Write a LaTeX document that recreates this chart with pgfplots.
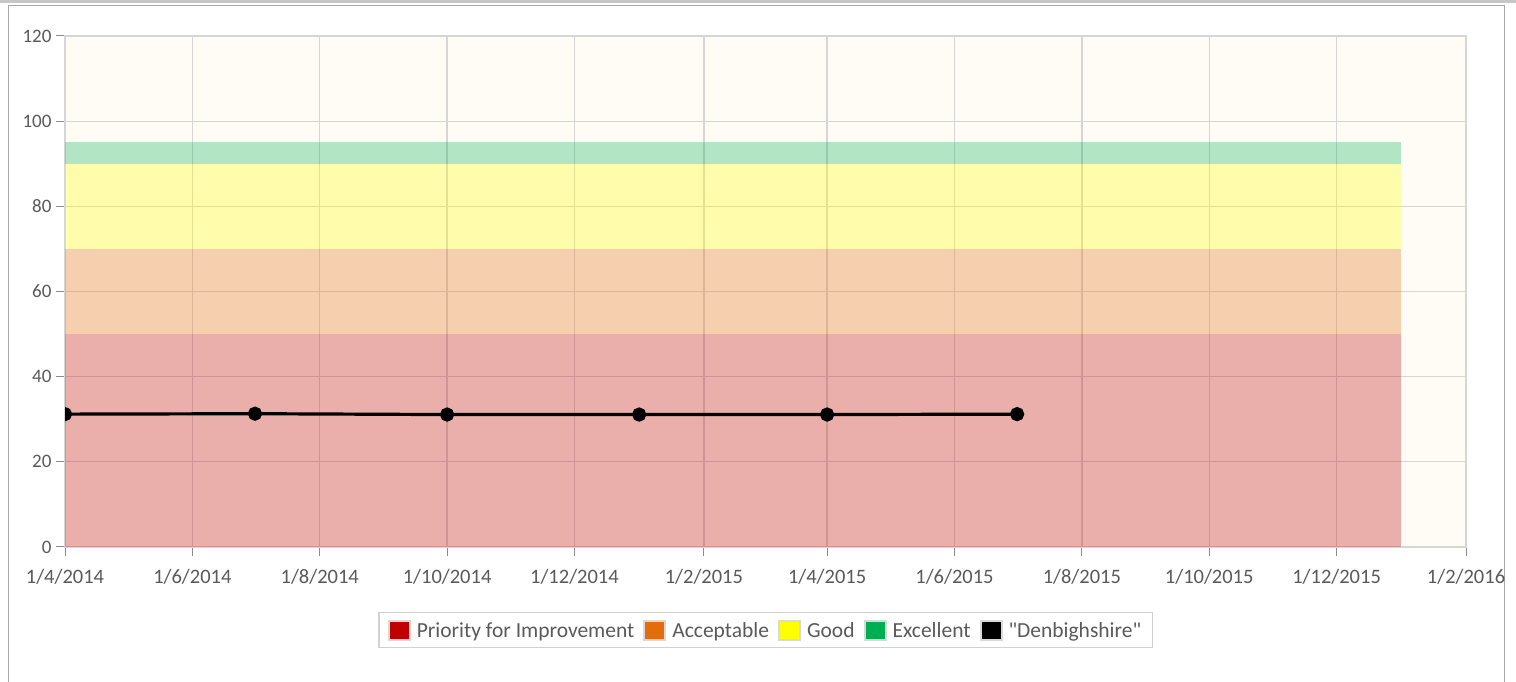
\documentclass[border=0pt]{standalone}
\usepackage{pgfplots}
\pgfplotsset{compat=1.18}
\usepackage{fontspec}
\setmainfont{Carlito}[Ligatures=TeXOff]
\definecolor{cRed}{HTML}{C00000}
\definecolor{cOrange}{HTML}{E46C0A}
\definecolor{cYellow}{HTML}{FFFF00}
\definecolor{cGreen}{HTML}{00B050}
\definecolor{cBg}{HTML}{FFFCF5}
\definecolor{cGrid}{HTML}{D6D6D6}
\definecolor{cTxt}{HTML}{5A5A5A}
\definecolor{cFrame}{HTML}{A8A8A8}
\begin{document}
\begin{tikzpicture}[x=1bp,y=1bp]
\useasboundingbox (0,0) rectangle (1516,682);
\fill[white] (0,0) rectangle (1516,682);
\fill[black!22] (0,679) rectangle (1516,682);
\draw[cFrame,line width=1bp] (8,-5) -- (8,676) -- (1504,676) -- (1504,-5);
\begin{axis}[
  at={(65bp,135bp)}, anchor=south west,
  scale only axis, width=1401bp, height=511bp,
  xmin=0, xmax=671, ymin=0, ymax=120,
  xtick={0,61,122,183,244,306,365,426,487,548,609,671},
  xticklabels={1/4/2014,1/6/2014,1/8/2014,1/10/2014,1/12/2014,1/2/2015,1/4/2015,1/6/2015,1/8/2015,1/10/2015,1/12/2015,1/2/2016},
  ytick={0,20,40,60,80,100,120},
  /pgf/number format/assume math mode=true,
  grid=major,
  major grid style={cGrid,line width=1.3bp},
  axis line style={cGrid,line width=1.3bp},
  axis background/.style={fill=cBg},
  tick align=outside,
  major tick length=9bp,
  tick style={black!45,line width=1bp},
  xtick pos=bottom, ytick pos=left,
  yticklabel style={font=\fontsize{19bp}{22bp}\selectfont, text=cTxt, xshift=-1bp},
  xticklabel style={font=\fontsize{20.5bp}{22bp}\selectfont, text=cTxt, yshift=-10bp},
  clip marker paths=true,
  legend columns=5,
  legend style={at={(0.5,-0.127)}, anchor=north, draw=black!18, line width=1.3bp,
    font=\fontsize{21.5bp}{24bp}\selectfont, text=cTxt, inner xsep=9bp, inner ysep=7bp,
    /tikz/every even column/.append style={column sep=7bp},
    /tikz/every odd column/.append style={column sep=4bp}},
  legend cell align=left,
]
\addplot[draw=none, fill=cRed, fill opacity=0.3, forget plot] coordinates {(0,0)(640,0)(640,50)(0,50)} -- cycle;
\addplot[draw=none, fill=cOrange, fill opacity=0.3, forget plot] coordinates {(0,50)(640,50)(640,70)(0,70)} -- cycle;
\addplot[draw=none, fill=cYellow, fill opacity=0.3, forget plot] coordinates {(0,70)(640,70)(640,90)(0,90)} -- cycle;
\addplot[draw=none, fill=cGreen, fill opacity=0.3, forget plot] coordinates {(0,90)(640,90)(640,95)(0,95)} -- cycle;
\addlegendimage{legend image code/.code={\draw[fill=cRed,draw=black!15,line width=2bp] (0bp,-9bp) rectangle (21bp,10bp);}}
\addlegendentry{Priority for Improvement}
\addlegendimage{legend image code/.code={\draw[fill=cOrange,draw=black!15,line width=2bp] (0bp,-9bp) rectangle (21bp,10bp);}}
\addlegendentry{Acceptable}
\addlegendimage{legend image code/.code={\draw[fill=cYellow,draw=black!15,line width=2bp] (0bp,-9bp) rectangle (21bp,10bp);}}
\addlegendentry{Good}
\addlegendimage{legend image code/.code={\draw[fill=cGreen,draw=black!15,line width=2bp] (0bp,-9bp) rectangle (21bp,10bp);}}
\addlegendentry{Excellent}
\addplot[black, line width=3.2bp, mark=*, mark size=5.5bp,
  legend image code/.code={\draw[fill=black,draw=black!15,line width=2bp] (0bp,-9bp) rectangle (21bp,10bp);}]
  coordinates {(0,31.2)(91,31.3)(183,31.1)(275,31.1)(365,31.1)(456,31.2)};
\addlegendentry{"Denbighshire"}
\end{axis}
\end{tikzpicture}
\end{document}
